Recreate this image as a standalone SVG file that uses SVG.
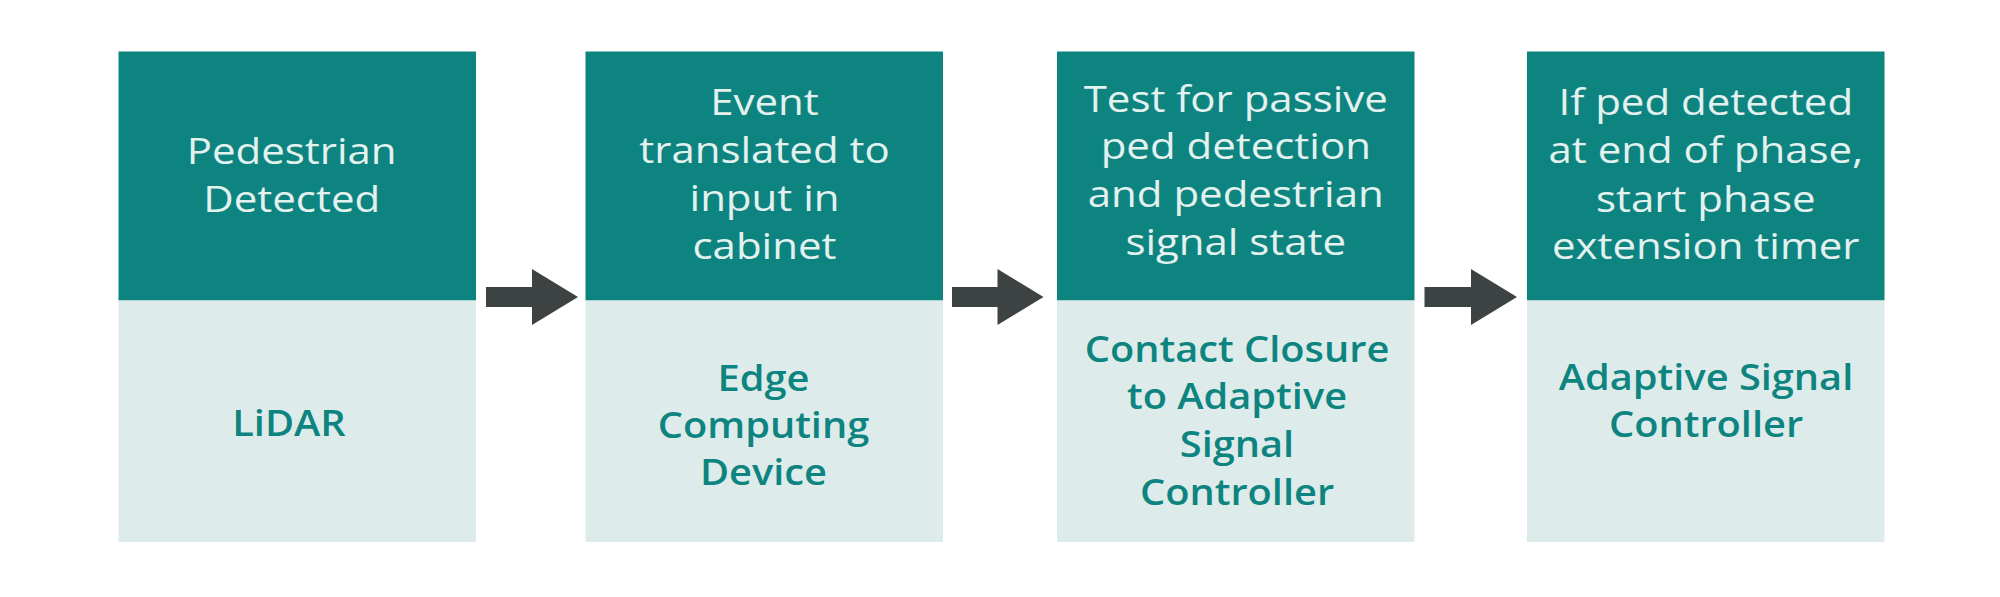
<svg xmlns="http://www.w3.org/2000/svg" width="2000" height="597" viewBox="0 0 2000 597">
<style>
.top{fill:#0e8480}
.bot{fill:#ddecea}
.tt{font-family:"Open Sans","Noto Sans",sans-serif;font-size:36.5px;fill:#e3f1ef;text-anchor:middle}
.bt{font-family:"Open Sans","Noto Sans",sans-serif;font-size:36.5px;font-weight:600;fill:#0e8480;text-anchor:middle}
.arr{fill:#3d4242}
</style>
<rect width="2000" height="597" fill="#ffffff"/>
<g id="node1">
<rect class="top" x="118.5" y="51.5" width="357.5" height="249"/>
<rect class="bot" x="118.5" y="300.5" width="357.5" height="241.5"/>
<text class="tt" transform="translate(291.7,0) scale(1.15,1)"><tspan x="0" y="164">Pedestrian</tspan><tspan x="0" y="211.7">Detected</tspan></text>
<text class="bt" transform="translate(289,0) scale(1.09,1)"><tspan x="0" y="436">LiDAR</tspan></text>
</g>
<g id="node2">
<rect class="top" x="585.5" y="51.5" width="357.5" height="249"/>
<rect class="bot" x="585.5" y="300.5" width="357.5" height="241.5"/>
<text class="tt" transform="translate(764.5,0) scale(1.15,1)"><tspan x="0" y="115">Event</tspan><tspan x="0" y="163.5">translated to</tspan><tspan x="0" y="211.5">input in</tspan><tspan x="0" y="259.3">cabinet</tspan></text>
<text class="bt" transform="translate(763.5,0) scale(1.09,1)"><tspan x="0" y="391">Edge</tspan><tspan x="0" y="438">Computing</tspan><tspan x="0" y="485">Device</tspan></text>
</g>
<g id="node3">
<rect class="top" x="1057" y="51.5" width="357.5" height="249"/>
<rect class="bot" x="1057" y="300.5" width="357.5" height="241.5"/>
<text class="tt" transform="translate(1235.75,0) scale(1.15,1)"><tspan x="0" y="111.7">Test for passive</tspan><tspan x="0" y="159.4">ped detection</tspan><tspan x="0" y="207.5">and pedestrian</tspan><tspan x="0" y="255">signal state</tspan></text>
<text class="bt" transform="translate(1237,0) scale(1.09,1)"><tspan x="0" y="361.7">Contact Closure</tspan><tspan x="0" y="409.4">to Adaptive</tspan><tspan x="0" y="457">Signal</tspan><tspan x="0" y="504.8">Controller</tspan></text>
</g>
<g id="node4">
<rect class="top" x="1527" y="51.5" width="357.5" height="249"/>
<rect class="bot" x="1527" y="300.5" width="357.5" height="241.5"/>
<text class="tt" transform="translate(1705.75,0) scale(1.15,1)"><tspan x="0" y="115">If ped detected</tspan><tspan x="0" y="163.3">at end of phase,</tspan><tspan x="0" y="212">start phase</tspan><tspan x="0" y="259.3">extension timer</tspan></text>
<text class="bt" transform="translate(1706,0) scale(1.09,1)"><tspan x="0" y="390">Adaptive Signal</tspan><tspan x="0" y="437.3">Controller</tspan></text>
</g>
<g id="connectors">
<polygon class="arr" points="486,287 532,287 532,269 578,297 532,325 532,307 486,307"/>
<polygon class="arr" points="952,287 997.5,287 997.5,269 1043.5,297 997.5,325 997.5,307 952,307"/>
<polygon class="arr" points="1424.5,287 1471,287 1471,269 1517,297 1471,325 1471,307 1424.5,307"/>
</g>
</svg>
